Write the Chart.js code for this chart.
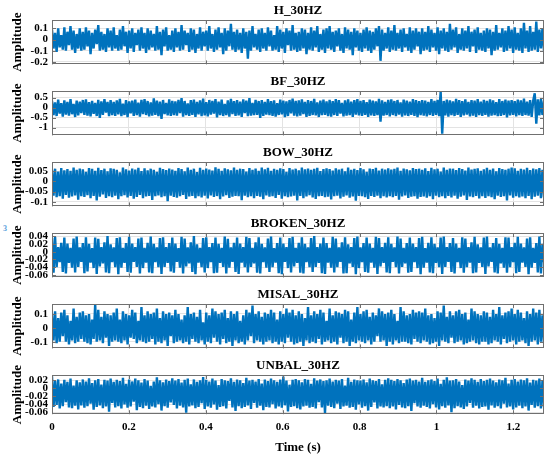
<!DOCTYPE html>
<html><head><meta charset="utf-8">
<script src="https://cdn.jsdelivr.net/npm/chart.js@4.4.1/dist/chart.umd.min.js"></script>
<style>
html,body{margin:0;padding:0;background:#fff;width:550px;height:457px;overflow:hidden;position:relative;}
canvas{position:absolute;left:0;}
#exp{position:absolute;left:3px;top:224px;font:bold 8px "Liberation Serif",serif;color:#5a9fdc;}
</style></head><body>
<div id="exp">3</div>
<script>
const panelTitles = ["H_30HZ","BF_30HZ","BOW_30HZ","BROKEN_30HZ","MISAL_30HZ","UNBAL_30HZ"];
const duration = 1.28;
const timeTicks = [0,0.2,0.4,0.6,0.8,1,1.2];

const sigH = [
.09,-.08,.06,-.11,.10,-.07,.04,-.09,.11,-.10,.07,-.05,.12,-.09,.08,-.12,.05,-.08,.10,-.10,
.07,-.09,.11,-.06,.08,-.13,.06,-.08,.09,-.04,.13,-.10,.07,-.09,.05,-.11,.10,-.07,.08,-.10,
.11,-.08,.04,-.10,.09,-.09,.12,-.06,.07,-.12,.08,-.08,.10,-.11,.06,-.05,.09,-.10,.11,-.08,
.06,-.12,.10,-.09,.08,-.07,.05,-.10,.12,-.09,.07,-.14,.09,-.06,.11,-.10,.04,-.09,.08,-.11,
.10,-.07,.07,-.10,.13,-.09,.08,-.05,.06,-.11,.10,-.09,.09,-.12,.05,-.08,.11,-.10,.07,-.06,
.08,-.10,.12,-.08,.05,-.11,.09,-.09,.11,-.07,.06,-.13,.10,-.10,.08,-.06,.14,-.09,.07,-.11,
.09,-.09,.06,-.12,.10,-.08,.07,-.17,.08,-.10,.12,-.07,.05,-.09,.09,-.11,.10,-.08,.06,-.10,
.11,-.06,.08,-.10,.04,-.09,.12,-.11,.09,-.08,.07,-.12,.10,-.05,.08,-.10,.13,-.09,.06,-.11,
.07,-.10,.10,-.08,.09,-.13,.06,-.09,.11,-.10,.08,-.07,.12,-.11,.05,-.09,.09,-.12,.10,-.08,
.12,-.09,.07,-.11,.08,-.06,.10,-.10,.05,-.12,.11,-.08,.09,-.09,.07,-.14,.10,-.07,.08,-.10,
.06,-.11,.09,-.08,.11,-.10,.08,-.12,.07,-.09,.10,-.06,.12,-.19,.09,-.10,.06,-.08,.11,-.11,
.08,-.09,.13,-.10,.06,-.08,.09,-.11,.10,-.07,.05,-.10,.11,-.12,.08,-.09,.10,-.06,.07,-.13,
.10,-.10,.07,-.09,.12,-.11,.09,-.07,.06,-.10,.11,-.13,.08,-.08,.10,-.10,.07,-.11,.14,-.09,
.09,-.07,.11,-.12,.05,-.09,.10,-.10,.08,-.08,.12,-.11,.07,-.06,.09,-.12,.11,-.09,.06,-.10,
.08,-.11,.10,-.08,.09,-.14,.07,-.10,.13,-.09,.06,-.07,.10,-.11,.08,-.10,.12,-.08,.09,-.12,
.11,-.09,.06,-.10,.10,-.12,.15,-.08,.08,-.11,.12,-.10,.07,-.09,.16,-.11,.09,-.08,.10,-.10];

const sigBF = [
.33,-.38,.26,-.42,.40,-.30,.22,-.45,.36,-.35,.29,-.40,.43,-.33,.18,-.47,.35,-.39,.30,-.28,
.38,-.36,.41,-.40,.27,-.44,.34,-.31,.24,-.42,.39,-.52,.31,-.36,.42,-.25,.29,-.43,.37,-.38,
.28,-.41,.36,-.34,.44,-.43,.20,-.37,.38,-.48,.31,-.29,.35,-.41,.40,-.38,.25,-.45,.39,-.33,
.42,-.37,.33,-.44,.26,-.40,.46,-.36,.35,-.43,.30,-.56,.38,-.32,.23,-.39,.41,-.42,.34,-.37,
.31,-.40,.39,-.28,.48,-.45,.33,-.38,.21,-.41,.37,-.36,.40,-.47,.29,-.34,.36,-.43,.45,-.39,
.27,-.44,.38,-.35,.34,-.30,.42,-.49,.30,-.38,.40,-.42,.19,-.37,.36,-.45,.44,-.33,.32,-.41,
.37,-.39,.30,-.47,.41,-.27,.35,-.43,.47,-.40,.24,-.38,.39,-.36,.33,-.51,.38,-.41,.28,-.35,
.43,-.38,.32,-.41,.36,-.45,.22,-.37,.40,-.34,.35,-.48,.31,-.42,.38,-.29,.45,-.40,.34,-.44,
.36,-.40,.41,-.33,.29,-.46,.38,-.42,.33,-.37,.44,-.39,.26,-.47,.35,-.38,.40,-.36,.31,-.43,
.39,-.45,.32,-.37,.43,-.41,.37,-.30,.24,-.44,.36,-.40,.41,-.38,.30,-.46,.37,-.35,.42,-.39,
.34,-.42,.38,-.36,.27,-.47,.40,-.39,.35,-.41,.31,-.38,.44,-.70,.36,-.40,.29,-.37,.39,-.44,
.41,-.37,.33,-.43,.38,-.35,.26,-.45,.40,-.39,.35,-.42,.30,-.36,.43,-.41,.37,-.48,.32,-.38,
.38,-.40,.35,-.44,.29,-.37,.42,-.41,.34,-.36,.39,-.43,.80,-1.30,.33,-.39,.40,-.45,.36,-.38,
.31,-.42,.44,-.37,.37,-.46,.32,-.39,.41,-.35,.28,-.44,.38,-.40,.35,-.47,.42,-.38,.30,-.41,
.39,-.36,.34,-.45,.41,-.40,.36,-.38,.27,-.43,.43,-.41,.33,-.37,.40,-.49,.35,-.39,.38,-.36,
.32,-.44,.40,-.38,.36,-.42,.45,-.37,.30,-.40,.38,-.46,.34,.72,-.80,.41,-.39,.44,-.37,.35];

const sigBOW = [
.058,-.070,.063,-.078,.049,-.072,.066,-.085,.055,-.066,.061,-.080,.052,-.074,.068,-.069,.057,-.090,.064,-.073,
.060,-.076,.047,-.068,.066,-.082,.062,-.071,.053,-.094,.067,-.075,.056,-.064,.063,-.081,.050,-.072,.065,-.078,
.062,-.070,.057,-.087,.045,-.073,.069,-.068,.060,-.079,.054,-.071,.064,-.085,.059,-.076,.067,-.067,.051,-.083,
.065,-.074,.055,-.071,.063,-.091,.058,-.073,.048,-.069,.067,-.077,.061,-.072,.056,-.097,.064,-.070,.059,-.076,
.053,-.080,.066,-.072,.061,-.066,.050,-.086,.068,-.074,.058,-.071,.063,-.082,.046,-.073,.067,-.079,.057,-.070,
.064,-.084,.059,-.069,.054,-.076,.070,-.072,.062,-.088,.052,-.074,.065,-.068,.060,-.081,.055,-.075,.069,-.071,
.058,-.072,.063,-.092,.061,-.070,.049,-.077,.066,-.073,.057,-.083,.064,-.071,.053,-.075,.068,-.087,.060,-.069,
.067,-.075,.052,-.073,.062,-.081,.058,-.067,.065,-.085,.061,-.072,.048,-.078,.066,-.074,.059,-.070,.063,-.093,
.055,-.071,.068,-.082,.060,-.074,.064,-.068,.057,-.079,.062,-.086,.067,-.073,.051,-.071,.061,-.077,.065,-.075,
.061,-.089,.054,-.072,.065,-.070,.059,-.084,.063,-.075,.050,-.069,.068,-.080,.058,-.074,.062,-.095,.056,-.071,
.066,-.073,.060,-.078,.047,-.086,.064,-.071,.061,-.076,.067,-.070,.054,-.083,.063,-.073,.059,-.079,.065,-.072,
.059,-.077,.062,-.071,.068,-.090,.053,-.074,.064,-.069,.060,-.081,.055,-.075,.066,-.072,.061,-.085,.063,-.076,
.057,-.074,.065,-.080,.051,-.072,.067,-.088,.060,-.070,.063,-.077,.049,-.073,.069,-.082,.058,-.071,.064,-.079,
.063,-.070,.056,-.085,.066,-.075,.061,-.069,.054,-.091,.068,-.074,.059,-.078,.062,-.071,.065,-.084,.052,-.073,
.060,-.081,.067,-.072,.058,-.077,.064,-.087,.050,-.070,.066,-.076,.061,-.073,.057,-.094,.063,-.069,.068,-.080,
.065,-.072,.053,-.079,.062,-.074,.059,-.083,.067,-.071,.056,-.088,.064,-.075,.060,-.070,.066,-.082,.058,-.077];

const sigBROKEN = [
.035,-.054,.038,-.040,.012,-.027,.023,-.052,.036,-.056,.021,-.029,.010,-.041,.034,-.053,.039,-.039,.011,-.026,
.022,-.055,.037,-.051,.020,-.028,.009,-.042,.036,-.057,.033,-.038,.012,-.030,.024,-.053,.040,-.055,.019,-.027,
.011,-.040,.035,-.058,.037,-.041,.010,-.029,.022,-.052,.038,-.054,.021,-.026,.012,-.039,.034,-.056,.036,-.042,
.010,-.028,.023,-.053,.039,-.055,.020,-.027,.011,-.040,.035,-.057,.037,-.039,.012,-.029,.022,-.051,.036,-.054,
.021,-.026,.009,-.041,.038,-.056,.034,-.038,.011,-.030,.024,-.052,.040,-.058,.019,-.028,.010,-.040,.035,-.053,
.037,-.042,.012,-.027,.022,-.055,.036,-.054,.020,-.029,.010,-.039,.039,-.056,.033,-.041,.011,-.026,.023,-.052,
.036,-.057,.021,-.028,.012,-.040,.038,-.053,.035,-.039,.010,-.030,.024,-.054,.037,-.056,.020,-.027,.011,-.041,
.034,-.052,.039,-.040,.009,-.028,.022,-.055,.036,-.058,.021,-.026,.012,-.042,.035,-.053,.038,-.038,.010,-.029,
.023,-.054,.037,-.056,.020,-.027,.011,-.040,.035,-.052,.040,-.039,.012,-.029,.021,-.055,.036,-.057,.022,-.028,
.010,-.041,.038,-.053,.034,-.040,.011,-.026,.024,-.056,.037,-.055,.019,-.030,.012,-.039,.035,-.058,.039,-.042,
.011,-.027,.022,-.052,.036,-.054,.021,-.028,.010,-.041,.038,-.057,.035,-.038,.012,-.029,.023,-.053,.037,-.055,
.020,-.026,.011,-.040,.039,-.056,.034,-.039,.010,-.030,.022,-.054,.036,-.052,.021,-.027,.012,-.042,.035,-.058,
.038,-.041,.009,-.028,.023,-.053,.037,-.055,.020,-.029,.011,-.040,.036,-.057,.039,-.039,.012,-.026,.022,-.052,
.035,-.056,.021,-.027,.010,-.042,.037,-.054,.034,-.040,.012,-.028,.024,-.055,.038,-.053,.019,-.029,.011,-.039,
.036,-.057,.039,-.038,.011,-.026,.022,-.053,.035,-.056,.020,-.030,.010,-.041,.037,-.054,.036,-.040,.012,-.027,
.023,-.055,.038,-.052,.021,-.028,.011,-.039,.034,-.058,.037,-.041,.010,-.029,.022,-.053,.039,-.056,.020,-.027];

const sigMISAL = [
.10,-.09,.12,-.11,.07,-.10,.11,-.06,.13,-.10,.09,-.12,.05,-.09,.14,-.11,.08,-.10,.11,-.08,
.12,-.10,.09,-.11,.10,-.12,.06,-.08,.17,-.10,.13,-.09,.08,-.11,.12,-.07,.10,-.13,.09,-.10,
.11,-.09,.14,-.10,.06,-.11,.12,-.09,.10,-.12,.09,-.07,.13,-.08,.11,-.11,.05,-.09,.15,-.10,
.09,-.11,.12,-.10,.10,-.08,.11,-.12,.14,-.10,.07,-.11,.12,-.09,.10,-.13,.11,-.06,.09,-.11,
.13,-.10,.10,-.09,.06,-.11,.09,-.10,.15,-.12,.10,-.08,.11,-.10,.08,-.11,.13,-.09,.04,-.12,
.11,-.10,.09,-.11,.14,-.07,.12,-.10,.10,-.12,.11,-.08,.13,-.11,.07,-.10,.12,-.13,.10,-.09,
.12,-.11,.05,-.10,.09,-.12,.13,-.09,.11,-.06,.16,-.11,.10,-.09,.12,-.10,.08,-.12,.11,-.10,
.10,-.09,.13,-.11,.11,-.10,.06,-.12,.12,-.10,.10,-.11,.14,-.07,.11,-.10,.13,-.12,.09,-.11,
.12,-.10,.10,-.13,.07,-.09,.15,-.11,.09,-.10,.12,-.11,.10,-.08,.13,-.12,.11,-.10,.05,-.09,
.14,-.11,.09,-.10,.12,-.12,.11,-.07,.10,-.11,.13,-.10,.12,-.13,.06,-.10,.11,-.11,.15,-.09,
.10,-.10,.12,-.11,.13,-.09,.08,-.12,.11,-.10,.09,-.06,.14,-.10,.12,-.09,.10,-.13,.11,-.10,
.13,-.12,.10,-.09,.05,-.11,.15,-.10,.12,-.10,.09,-.11,.10,-.12,.13,-.08,.11,-.10,.12,-.11,
.11,-.09,.14,-.10,.09,-.12,.10,-.11,.07,-.10,.12,-.13,.11,-.09,.16,-.10,.08,-.11,.12,-.07,
.09,-.11,.12,-.10,.13,-.09,.10,-.12,.11,-.11,.06,-.10,.14,-.09,.12,-.11,.10,-.12,.09,-.10,
.12,-.10,.11,-.12,.08,-.11,.13,-.09,.10,-.10,.15,-.12,.09,-.08,.11,-.11,.12,-.10,.14,-.09,
.10,-.12,.13,-.10,.11,-.09,.07,-.11,.12,-.13,.10,-.10,.14,-.09,.11,-.12,.13,-.10,.09,-.11];

const sigUNBAL = [
.030,-.046,.018,-.041,.022,-.050,.012,-.044,.021,-.034,.016,-.047,.024,-.049,.007,-.043,.020,-.052,.015,-.042,
.022,-.048,.017,-.044,.025,-.038,.013,-.053,.020,-.046,.023,-.042,.009,-.049,.021,-.045,.019,-.058,.024,-.036,
.016,-.047,.021,-.044,.018,-.050,.026,-.040,.011,-.048,.022,-.045,.017,-.033,.024,-.054,.020,-.046,.014,-.049,
.023,-.043,.019,-.051,.006,-.045,.017,-.047,.027,-.039,.020,-.055,.015,-.044,.022,-.048,.018,-.035,.025,-.041,
.019,-.050,.023,-.043,.014,-.047,.021,-.060,.024,-.045,.010,-.042,.022,-.049,.016,-.046,.020,-.037,.028,-.051,
.021,-.045,.017,-.048,.024,-.040,.019,-.053,.008,-.046,.023,-.044,.020,-.050,.018,-.031,.025,-.047,.016,-.056,
.022,-.044,.020,-.049,.013,-.046,.026,-.042,.019,-.051,.021,-.036,.017,-.048,.023,-.043,.012,-.054,.022,-.046,
.018,-.047,.024,-.039,.020,-.050,.016,-.045,.022,-.048,.029,-.042,.019,-.057,.009,-.046,.021,-.044,.023,-.049,
.020,-.052,.015,-.045,.023,-.043,.021,-.048,.011,-.046,.025,-.050,.019,-.034,.022,-.047,.018,-.061,.020,-.043,
.024,-.046,.017,-.049,.021,-.038,.019,-.051,.023,-.045,.007,-.043,.026,-.048,.016,-.046,.022,-.053,.020,-.040,
.019,-.048,.022,-.044,.015,-.055,.024,-.046,.020,-.035,.018,-.050,.023,-.045,.010,-.047,.021,-.044,.025,-.049,
.021,-.045,.018,-.052,.023,-.041,.020,-.047,.013,-.049,.022,-.044,.024,-.056,.019,-.037,.021,-.045,.017,-.048,
.026,-.043,.016,-.046,.020,-.050,.022,-.039,.018,-.047,.024,-.052,.011,-.044,.021,-.048,.027,-.042,.019,-.059,
.020,-.049,.023,-.044,.017,-.047,.008,-.051,.022,-.045,.019,-.036,.025,-.048,.021,-.043,.016,-.050,.023,-.046,
.018,-.045,.021,-.053,.024,-.042,.019,-.048,.015,-.044,.022,-.050,.020,-.038,.026,-.047,.012,-.045,.021,-.052,
.023,-.047,.017,-.043,.022,-.049,.020,-.045,.025,-.055,.014,-.041,.021,-.048,.019,-.044,.024,-.050,.018,-.046];

const signals = [sigH, sigBF, sigBOW, sigBROKEN, sigMISAL, sigUNBAL];
const axisMin = [-0.222, -1.39, -0.123, -0.066, -0.148, -0.064];
const axisMax = [0.175, 0.83, 0.096, 0.048, 0.172, 0.033];
const ticksH = [-0.2,-0.1,0,0.1];
const ticksBF = [-1,-0.5,0,0.5];
const ticksBOW = [-0.1,-0.05,0,0.05];
const ticksBROKEN = [-0.06,-0.04,-0.02,0,0.02,0.04];
const ticksMISAL = [-0.1,0,0.1];
const ticksUNBAL = [-0.06,-0.04,-0.02,0,0.02];
const yTicks = [ticksH, ticksBF, ticksBOW, ticksBROKEN, ticksMISAL, ticksUNBAL];

// ----- layout / style -----
const W = 550, H = 457;
const PLOT_LEFT = 52, PLOT_RIGHT = 544;
const FIRST_TOP = 20, STEP = 71, PLOT_H = 45, TITLE_SPACE = 20;
const LINE_COLOR = '#0072BD';
const SERIF = '"Liberation Serif", "Times New Roman", serif';

const boxPlugin = {
  id: 'matlabBox',
  afterDatasetsDraw(chart) {
    const {ctx, chartArea: a, scales} = chart;
    ctx.save();
    ctx.strokeStyle = '#707070';
    ctx.lineWidth = 1;
    ctx.beginPath();
    scales.x.ticks.forEach(t => {
      const px = Math.round(scales.x.getPixelForValue(t.value)) + 0.5;
      ctx.moveTo(px, a.bottom); ctx.lineTo(px, a.bottom - 4);
      ctx.moveTo(px, a.top); ctx.lineTo(px, a.top + 4);
    });
    scales.y.ticks.forEach(t => {
      const py = Math.round(scales.y.getPixelForValue(t.value)) + 0.5;
      ctx.moveTo(a.left, py); ctx.lineTo(a.left + 4, py);
      ctx.moveTo(a.right, py); ctx.lineTo(a.right - 4, py);
    });
    ctx.stroke();
    ctx.strokeRect(Math.round(a.left) + 0.5, Math.round(a.top) + 0.5,
                   Math.round(a.right - a.left) - 1, Math.round(a.bottom - a.top) - 1);
    ctx.restore();
  }
};

signals.forEach((sig, i) => {
  const last = i === signals.length - 1;
  const top = FIRST_TOP + i * STEP - TITLE_SPACE;
  const h = last ? H - top : TITLE_SPACE + PLOT_H + 10;
  const c = document.createElement('canvas');
  c.width = W; c.height = h;
  c.style.top = top + 'px';
  c.style.width = W + 'px'; c.style.height = h + 'px';
  document.body.appendChild(c);
  const pts = sig.map((v, k) => ({x: k * duration / (sig.length - 1), y: v}));
  new Chart(c, {
    type: 'line',
    data: {datasets: [{data: pts, borderColor: LINE_COLOR, borderWidth: 2.4,
      borderJoinStyle: 'bevel', borderCapStyle: 'butt',
      pointRadius: 0, tension: 0, fill: false}]},
    options: {
      responsive: false, animation: false, parsing: false,
      layout: {padding: {left: 0, right: W - PLOT_RIGHT, top: 0, bottom: last ? 2 : 10}},
      plugins: {
        legend: {display: false},
        tooltip: {enabled: false},
        title: {display: true, text: panelTitles[i], fullSize: false, color: '#000',
          font: {family: SERIF, size: 13, weight: 'bold'}, padding: {top: 3, bottom: 1.4}}
      },
      scales: {
        x: {
          type: 'linear', min: 0, max: duration,
          afterBuildTicks: s => { s.ticks = timeTicks.map(v => ({value: v})); },
          grid: {color: '#e3e3e3', drawTicks: false},
          border: {display: false},
          ticks: {display: last, padding: 6, maxRotation: 0, autoSkip: false, color: '#000',
            font: {family: SERIF, size: 11, weight: 'bold'}, callback: v => String(v)},
          title: {display: last, text: 'Time (s)', color: '#000', padding: {top: 0, bottom: 0},
            font: {family: SERIF, size: 13, weight: 'bold'}}
        },
        y: {
          type: 'linear', min: axisMin[i], max: axisMax[i],
          afterBuildTicks: s => { s.ticks = yTicks[i].map(v => ({value: v})); },
          afterFit: s => { s.width = PLOT_LEFT; },
          grid: {color: '#e3e3e3', drawTicks: false},
          border: {display: false},
          ticks: {padding: 4, autoSkip: false, color: '#000',
            font: {family: SERIF, size: 11, weight: 'bold'}, callback: v => String(v)},
          title: {display: true, text: 'Amplitude', color: '#000', padding: {top: 10, bottom: 0},
            font: {family: SERIF, size: 13, weight: 'bold'}}
        }
      }
    },
    plugins: [boxPlugin]
  });
});
</script>
</body></html>
